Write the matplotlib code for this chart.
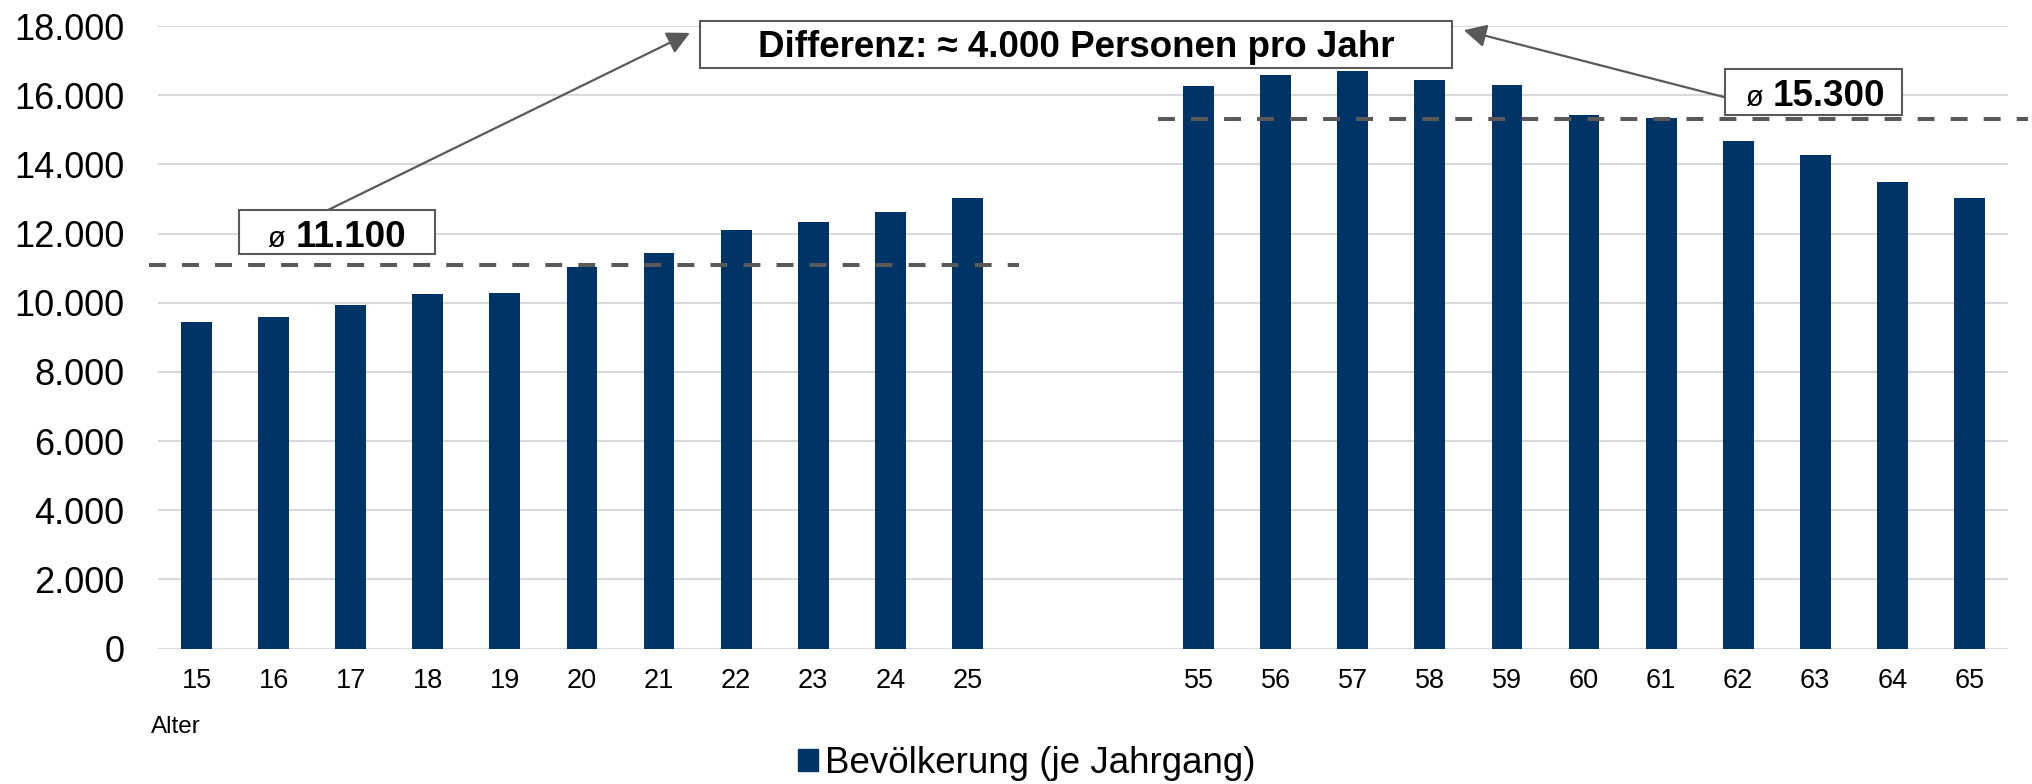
import numpy as np
import matplotlib
matplotlib.use("Agg")
import matplotlib.pyplot as plt
from matplotlib.patches import Rectangle, Patch
from matplotlib.ticker import FuncFormatter

plt.rcParams["font.family"] = ["Liberation Sans", "DejaVu Sans"]

# Bevölkerung je Jahrgang
alter_jung = [15, 16, 17, 18, 19, 20, 21, 22, 23, 24, 25]
bev_jung = [9450, 9600, 9930, 10260, 10290, 11040, 11440, 12100, 12330, 12610, 13040]
alter_alt = [55, 56, 57, 58, 59, 60, 61, 62, 63, 64, 65]
bev_alt = [16280, 16590, 16700, 16430, 16300, 15420, 15340, 14670, 14270, 13480, 13020]

schnitt_jung = 11100
schnitt_alt = 15300
luecke = 2  # leere Kategorien zwischen den Gruppen

blau = "#003366"
grau = "#595959"

x_jung = np.arange(len(alter_jung))
x_alt = np.arange(len(alter_alt)) + len(alter_jung) + luecke
n_slots = len(alter_jung) + luecke + len(alter_alt)

fig = plt.figure(figsize=(20.33, 7.84), dpi=100)
ax = fig.add_axes([0.0777, 0.1726, 0.91, 0.7942])

ax.bar(x_jung, bev_jung, width=0.4, color=blau, zorder=3)
ax.bar(x_alt, bev_alt, width=0.4, color=blau, zorder=3)

ax.set_xlim(-0.5, n_slots - 0.5)
ax.set_ylim(0, 18000)
ax.set_yticks(np.arange(0, 18001, 2000))
ax.yaxis.set_major_formatter(FuncFormatter(lambda v, p: f"{int(v):,}".replace(",", ".")))
ax.set_xticks(list(x_jung) + list(x_alt))
ax.set_xticklabels([str(a) for a in alter_jung + alter_alt])
ax.tick_params(axis="y", length=0, pad=24, labelsize=26)
ax.tick_params(axis="x", length=0, pad=14, labelsize=19.5)
ax.grid(axis="y", color="#d9d9d9", linewidth=1.5, zorder=0)
ax.set_axisbelow(True)
for s in ax.spines.values():
    s.set_visible(False)

# Durchschnittslinien
ax.plot([-0.62, 10.67], [schnitt_jung, schnitt_jung], color=grau, lw=2.9,
        dashes=(4.2, 4.0), zorder=4, clip_on=False)
ax.plot([12.47, 23.76], [schnitt_alt, schnitt_alt], color=grau, lw=2.9,
        dashes=(4.2, 4.0), zorder=4, clip_on=False)

# Pfeile
pfeil = dict(arrowstyle="-|>,head_length=0.55,head_width=0.28", color=grau,
             lw=1.6, mutation_scale=25, shrinkA=0, shrinkB=0)
ax.annotate("", xy=(6.40, 17800), xytext=(1.70, 12675), arrowprops=pfeil, zorder=5,
            annotation_clip=False)
ax.annotate("", xy=(16.44, 17880), xytext=(19.82, 15944), arrowprops=pfeil, zorder=5,
            annotation_clip=False)

# Kästen
def kasten(x0, x1, y0, y1):
    ax.add_patch(Rectangle((x0, y0), x1 - x0, y1 - y0, facecolor="white",
                           edgecolor=grau, lw=1.5, zorder=6, clip_on=False))

kasten(0.551, 3.094, 11404, 12675)
kasten(19.83, 22.13, 15423, 16753)
kasten(6.53, 16.29, 16791, 18140)

t1 = ax.text(2.0, 11618, f"{schnitt_jung:,}".replace(",", "."), ha="center",
             va="baseline", fontsize=26.5, fontweight="bold", zorder=7)
ax.annotate("ø", xy=(0, 0.45), xycoords=t1, xytext=(-7, 0), textcoords="offset points",
            ha="right", va="center", fontsize=21, zorder=7)
t2 = ax.text(21.18, 15684, f"{schnitt_alt:,}".replace(",", "."), ha="center",
             va="baseline", fontsize=26.5, fontweight="bold", zorder=7)
ax.annotate("ø", xy=(0, 0.45), xycoords=t2, xytext=(-7, 0), textcoords="offset points",
            ha="right", va="center", fontsize=21, zorder=7)
ax.text(11.41, 17091, "Differenz: ≈ 4.000 Personen pro Jahr", ha="center",
        va="baseline", fontsize=26.5, fontweight="bold", zorder=7, clip_on=False)

fig.text(151 / 2033, 1 - 733 / 784, "Alter", fontsize=17.5, va="baseline", ha="left")

fig.legend(handles=[Patch(color=blau, label="Bevölkerung (je Jahrgang)")],
           loc="center", bbox_to_anchor=(0.505, 0.026), frameon=False, fontsize=26.5,
           handlelength=0.55, handleheight=0.55, handletextpad=0.2)

fig.savefig("out.png", dpi=100)
